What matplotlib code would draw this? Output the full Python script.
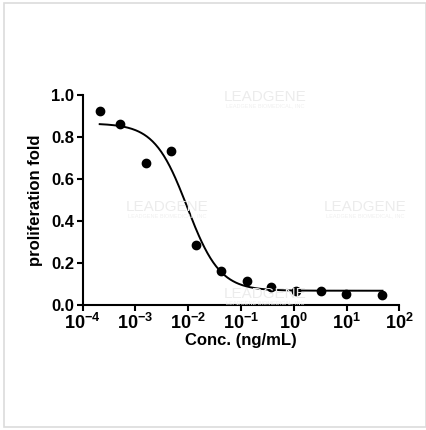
import matplotlib
matplotlib.use("Agg")
import matplotlib.pyplot as plt
import numpy as np

plt.rcParams['font.family'] = ['Liberation Sans', 'DejaVu Sans']
plt.rcParams['font.weight'] = 'bold'
plt.rcParams['mathtext.fontset'] = 'custom'
plt.rcParams['mathtext.bf'] = 'Liberation Sans:bold'
plt.rcParams['mathtext.rm'] = 'Liberation Sans:bold'

# measured points (conc in ng/mL, proliferation fold)
conc = [2.1e-4, 5.2e-4, 1.55e-3, 4.75e-3, 0.0141, 0.0411, 0.128, 0.368, 1.1, 3.26, 9.7, 47.9]
fold = [0.925, 0.86, 0.676, 0.732, 0.286, 0.16, 0.116, 0.086, 0.068, 0.068, 0.052, 0.046]

# fitted 4PL curve parameters
top = 0.865
bottom = 0.068
log_ic50 = -2.02
hill = 1.4

x_ticks = [1e-4, 1e-3, 1e-2, 1e-1, 1e0, 1e1, 1e2]
x_tick_labels = [r'$\mathbf{10^{-4}}$', r'$\mathbf{10^{-3}}$', r'$\mathbf{10^{-2}}$',
                 r'$\mathbf{10^{-1}}$', r'$\mathbf{10^{0}}$', r'$\mathbf{10^{1}}$',
                 r'$\mathbf{10^{2}}$']
y_ticks = [0.0, 0.2, 0.4, 0.6, 0.8, 1.0]

fig = plt.figure(figsize=(4.27, 4.30), dpi=100)

# light frame around the picture
frame = plt.Rectangle((4 / 427, 3 / 430), 422 / 427, 424 / 430, transform=fig.transFigure,
                      fill=False, edgecolor='#dcdcdc', linewidth=1.2)
fig.patches.append(frame)

# watermarks
marks = [(265, 97), (167, 207), (365, 207), (265, 294)]
for mx, my in marks:
    fig.text(mx / 427, 1 - my / 430, 'LEADGENE', color='#ececec', fontsize=11,
             ha='center', va='center', fontweight='normal', zorder=0)
    fig.text(mx / 427, 1 - (my + 9) / 430, 'LEADGENE BIOMEDICAL, INC', color='#f0f0f0',
             fontsize=4, ha='center', va='center', fontweight='normal', zorder=0)

ax = fig.add_axes([82.7 / 427, 125 / 430, 316.6 / 427, 210 / 430])
ax.patch.set_alpha(0)

xs = np.logspace(np.log10(conc[0]), np.log10(conc[-1]), 300)
ys = bottom + (top - bottom) / (1 + 10 ** ((np.log10(xs) - log_ic50) * hill))
ax.plot(xs, ys, color='black', linewidth=1.4)
ax.plot(conc, fold, 'o', color='black', markersize=6)

ax.set_xscale('log')
ax.set_xlim(1e-4, 1e2)
ax.set_ylim(0, 1.0)
ax.set_xticks(x_ticks)
ax.set_xticklabels(x_tick_labels)
ax.xaxis.set_minor_locator(matplotlib.ticker.NullLocator())
ax.set_yticks(y_ticks)
ax.set_yticklabels([f'{v:.1f}' for v in y_ticks])

for s in ['top', 'right']:
    ax.spines[s].set_visible(False)
for s in ['left', 'bottom']:
    ax.spines[s].set_linewidth(1.5)
ax.tick_params(width=1.5, length=4, labelsize=12, pad=2)
ax.tick_params(axis='x', labelsize=13)

ax.set_xlabel('Conc. (ng/mL)', fontsize=12, fontweight='bold', labelpad=0)
ax.set_ylabel('proliferation fold', fontsize=12, fontweight='bold', labelpad=6)

fig.savefig('out.png', dpi=100, facecolor='white')
